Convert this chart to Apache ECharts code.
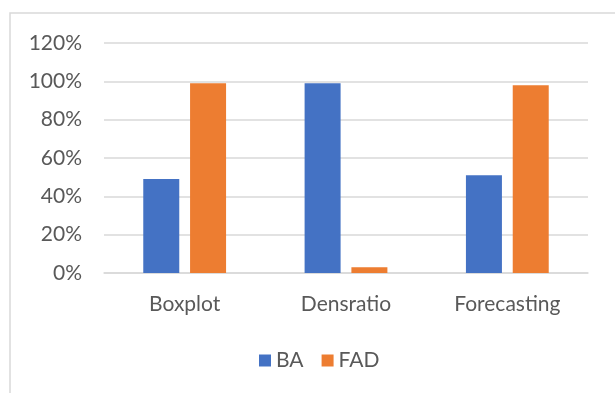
<!DOCTYPE html>
<html>
<head>
<meta charset="utf-8">
<script src="https://cdn.jsdelivr.net/npm/echarts@6/dist/echarts.min.js"></script>
<style>
  html, body { margin: 0; padding: 0; background: #ffffff; }
  #chart { width: 615px; height: 393px; }
</style>
</head>
<body>
<div id="chart"></div>
<script>
// Detection methods on the x axis
const categories = ['Boxplot', 'Densratio', 'Forecasting'];
// Scores per method, in percent
const baValues = [49, 99, 51];
const fadValues = [99, 3, 98];
const seriesNames = ['BA', 'FAD'];

const textColor = '#595959';
const fontFamily = 'Lato, "Open Sans", sans-serif';
const fontSize = 21;

const chart = echarts.init(document.getElementById('chart'));
chart.setOption({
  backgroundColor: '#ffffff',
  animation: false,
  graphic: [{
    type: 'rect',
    shape: { x: 10, y: 13, width: 620, height: 400 },
    style: { fill: 'none', stroke: '#d9d9d9', lineWidth: 1.5 },
    silent: true,
    z: -1
  }],
  grid: { left: 104, right: 27, top: 43, bottom: 120 },
  legend: {
    data: seriesNames,
    top: 345,
    left: 254,
    itemWidth: 12,
    itemHeight: 12,
    itemGap: 18,
    icon: 'rect',
    textStyle: { color: textColor, fontSize: fontSize, fontFamily: fontFamily, padding: [0, 0, 0, 0] }
  },
  xAxis: {
    type: 'category',
    data: categories,
    axisLine: { show: true, lineStyle: { color: '#d9d9d9', width: 1.5 } },
    axisTick: { show: false },
    axisLabel: { color: textColor, fontSize: fontSize, fontFamily: fontFamily, margin: 21 }
  },
  yAxis: {
    type: 'value',
    min: 0,
    max: 120,
    interval: 20,
    axisLine: { show: false },
    axisTick: { show: false },
    splitLine: { lineStyle: { color: '#d9d9d9', width: 1.5 } },
    axisLabel: {
      color: textColor, fontSize: fontSize, fontFamily: fontFamily, margin: 22,
      formatter: v => v + '%'
    }
  },
  series: [
    {
      name: seriesNames[0],
      type: 'bar',
      data: baValues,
      barWidth: 36,
      barGap: '30%',
      itemStyle: { color: '#4472c4' }
    },
    {
      name: seriesNames[1],
      type: 'bar',
      data: fadValues,
      barWidth: 36,
      itemStyle: { color: '#ed7d31' }
    }
  ]
});
</script>
</body>
</html>
